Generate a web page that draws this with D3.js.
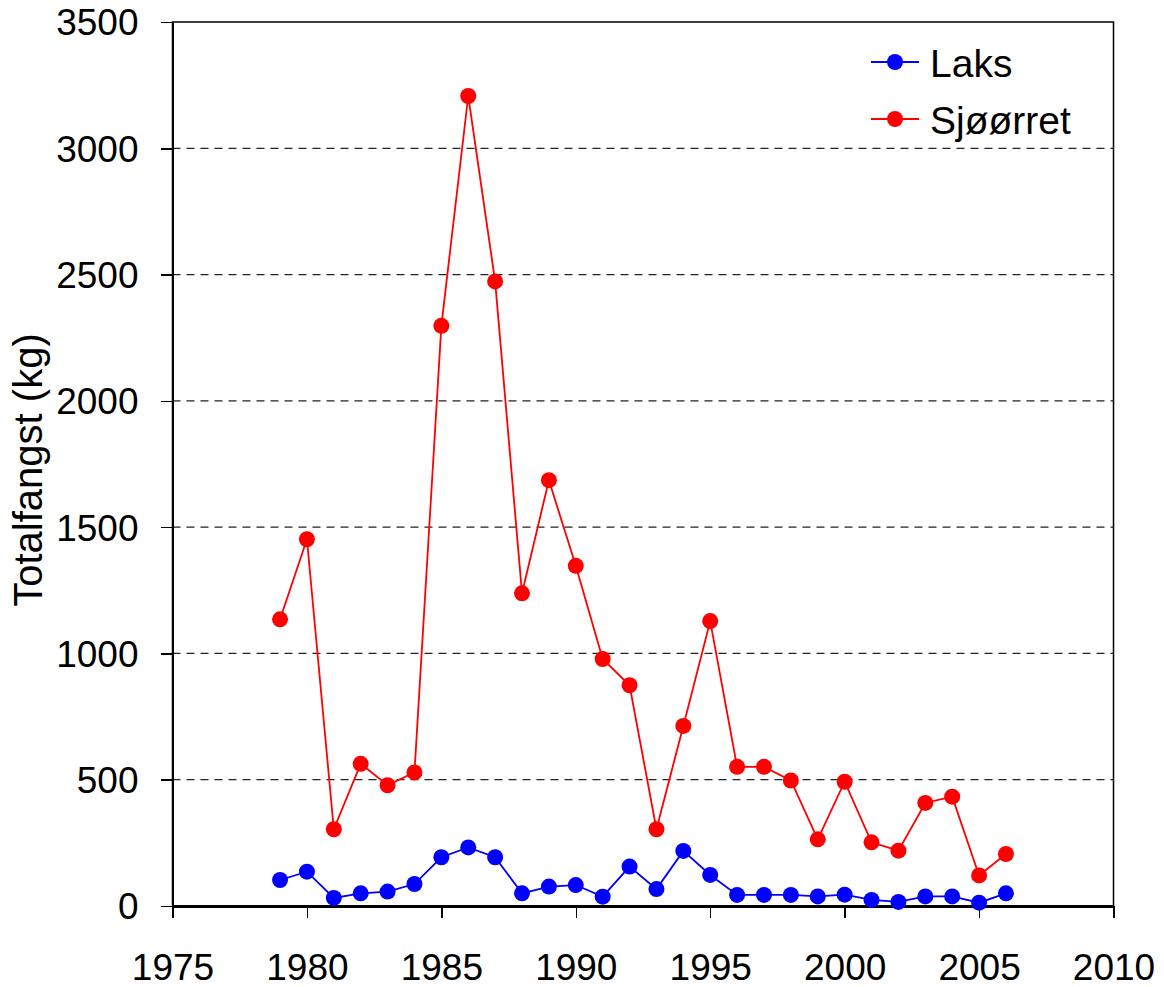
<!doctype html>
<html>
<head>
  <meta charset="utf-8">
  <title>Totalfangst</title>
  <script src="https://d3js.org/d3.v7.min.js"></script>
  <style>
    body { margin: 0; background: #fff; }
    svg text { font-family: "Liberation Sans", Arial, sans-serif; fill: #000; }
    .axis path, .axis line { stroke: #000; shape-rendering: crispEdges; }
  </style>
</head>
<body>
<div id="chart"></div>
<script>
  // data
  var years = [1979, 1980, 1981, 1982, 1983, 1984, 1985, 1986, 1987, 1988, 1989, 1990, 1991, 1992,
               1993, 1994, 1995, 1996, 1997, 1998, 1999, 2000, 2001, 2002, 2003, 2004, 2005, 2006];
  var laks = [103, 136, 32, 50, 57, 87, 193, 232, 193, 50, 77, 83, 37, 156,
              67, 218, 123, 44, 44, 44, 38, 45, 24, 16, 38, 38, 13, 50];
  var sjoorret = [1135, 1452, 304, 563, 478, 529, 2297, 3207, 2473, 1238, 1686, 1347, 978, 874,
                  304, 713, 1128, 551, 551, 497, 264, 492, 252, 219, 408, 433, 121, 206];
  var seriesNames = ["Laks", "Sjøørret"];
  var xTicks = [1975, 1980, 1985, 1990, 1995, 2000, 2005, 2010];
  var yTicks = [0, 500, 1000, 1500, 2000, 2500, 3000, 3500];
  var yLabel = "Totalfangst (kg)";

  var width = 1164, height = 987;
  var plotLeft = 172.5, plotRight = 1113.5, plotTop = 22, plotBottom = 906;

  var svg = d3.select("#chart").append("svg")
    .attr("width", width)
    .attr("height", height);

  var x = d3.scaleLinear().domain([1975, 2010]).range([plotLeft, plotRight]);
  var y = d3.scaleLinear().domain([0, 3500]).range([plotBottom, plotTop]);

  var color = d3.scaleOrdinal().domain(seriesNames).range(["#0000ff", "#ff0000"]);

  // dashed grid lines
  svg.append("g")
    .selectAll("line")
    .data(yTicks.filter(function(d){ return d > 0 && d < 3500; }))
    .enter()
    .append("line")
      .attr("x1", plotLeft).attr("x2", plotRight)
      .attr("y1", function(d){ return y(d); })
      .attr("y2", function(d){ return y(d); })
      .attr("stroke", "#222")
      .attr("stroke-width", 1.2)
      .attr("stroke-dasharray", "8,6");

  // plot frame
  svg.append("rect")
    .attr("x", plotLeft).attr("y", plotTop)
    .attr("width", plotRight - plotLeft).attr("height", plotBottom - plotTop)
    .attr("fill", "none")
    .attr("stroke", "#000")
    .attr("stroke-width", 1.5);

  // x axis
  var xAxis = svg.append("g")
    .attr("class", "axis")
    .attr("transform", "translate(0," + plotBottom + ")")
    .call(d3.axisBottom(x).tickValues(xTicks).tickFormat(d3.format("d")).tickSize(12).tickSizeOuter(0).tickPadding(36));
  xAxis.select(".domain").attr("stroke-width", 2.5);
  xAxis.selectAll("line").attr("stroke-width", 1.5);
  xAxis.selectAll("text").style("font-size", "37px");

  // y axis
  var yAxis = svg.append("g")
    .attr("class", "axis")
    .attr("transform", "translate(" + plotLeft + ",0)")
    .call(d3.axisLeft(y).tickValues(yTicks).tickFormat(d3.format("d")).tickSize(12).tickSizeOuter(0).tickPadding(22));
  yAxis.select(".domain").attr("stroke-width", 1.5);
  yAxis.selectAll("line").attr("stroke-width", 1.5);
  yAxis.selectAll("text").style("font-size", "37px").attr("dy", "0.35em");

  // y label
  svg.append("text")
    .attr("transform", "translate(42,470) rotate(-90)")
    .style("text-anchor", "middle")
    .style("font-size", "40px")
    .text(yLabel);

  var series = [
    {name: "Laks", values: laks},
    {name: "Sjøørret", values: sjoorret}
  ];

  var line = d3.line()
    .x(function(d){ return x(d.year); })
    .y(function(d){ return y(d.value); });

  series.forEach(function(s) {
    var pts = years.map(function(yr, i){ return {year: yr, value: s.values[i]}; });
    svg.append("path")
      .datum(pts)
      .attr("fill", "none")
      .attr("stroke", color(s.name))
      .attr("stroke-width", 1.8)
      .attr("d", line);
    svg.append("g")
      .selectAll("circle")
      .data(pts)
      .enter()
      .append("circle")
        .attr("cx", function(d){ return x(d.year); })
        .attr("cy", function(d){ return y(d.value); })
        .attr("r", 8)
        .attr("fill", color(s.name));
  });

  // legend
  var legend = svg.append("g");
  series.forEach(function(s, i) {
    var ly = 62 + i * 57;
    legend.append("line")
      .attr("x1", 871).attr("x2", 919)
      .attr("y1", ly).attr("y2", ly)
      .attr("stroke", color(s.name))
      .attr("stroke-width", 1.8);
    legend.append("circle")
      .attr("cx", 895).attr("cy", ly).attr("r", 8)
      .attr("fill", color(s.name));
    legend.append("text")
      .attr("x", 930).attr("y", ly + 14.5)
      .style("font-size", "39px")
      .text(s.name);
  });
</script>
</body>
</html>
